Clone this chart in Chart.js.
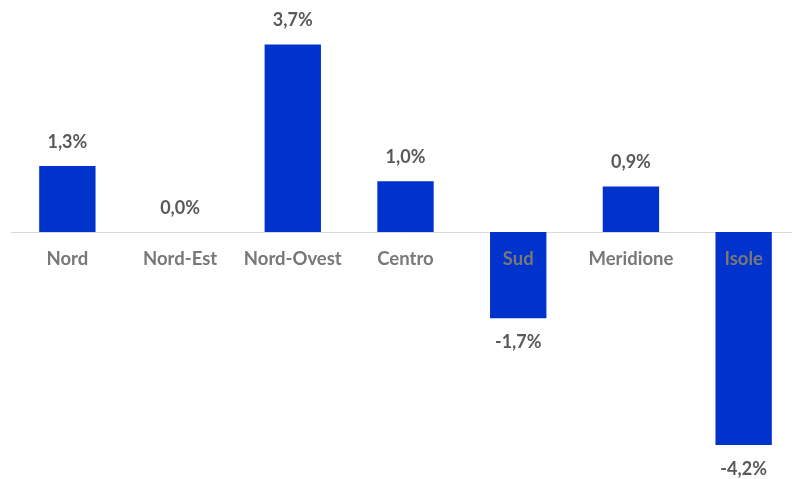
<!DOCTYPE html>
<html lang="it">
<head>
   <meta charset="UTF-8">
   <title>Variazione per area</title>
   <style>
      html, body { margin: 0; padding: 0; background: #fff; overflow: hidden; }
      #box { position: absolute; left: 0; top: 0; width: 800px; height: 479px; }
   </style>
</head>
<body>
   <div id="box"><canvas id="grafico"></canvas></div>
   <script src="https://cdn.jsdelivr.net/npm/chart.js@4"></script>
   <script>
      const aree = ['Nord', 'Nord-Est', 'Nord-Ovest', 'Centro', 'Sud', 'Meridione', 'Isole'];
      const variazioni = [1.3, 0.0, 3.7, 1.0, -1.7, 0.9, -4.2];

      const fmt = (v) => v.toFixed(1).replace('.', ',') + '%';

      // linea dello zero, etichette delle aree e valori
      const etichette = {
         id: 'etichette',
         beforeDatasetsDraw(chart) {
            const ctx = chart.ctx;
            const y0 = Math.round(chart.scales.y.getPixelForValue(0)) + 0.5;
            ctx.save();
            ctx.strokeStyle = '#d9d9d9';
            ctx.lineWidth = 1;
            ctx.beginPath();
            ctx.moveTo(chart.chartArea.left, y0);
            ctx.lineTo(chart.chartArea.right, y0);
            ctx.stroke();
            ctx.restore();
         },
         afterDatasetsDraw(chart) {
            const ctx = chart.ctx;
            const meta = chart.getDatasetMeta(0);
            const y0 = chart.scales.y.getPixelForValue(0);
            ctx.save();
            ctx.textAlign = 'center';
            ctx.textBaseline = 'middle';
            meta.data.forEach((bar, i) => {
               ctx.font = 'bold 18.5px Lato';
               ctx.fillStyle = '#787878';
               ctx.fillText(aree[i], bar.x, y0 + 27);

               const v = variazioni[i];
               ctx.font = 'bold 18px Lato';
               ctx.fillStyle = '#595959';
               const y = v < 0 ? bar.y + 24 : bar.y - 24;
               ctx.fillText(fmt(v), bar.x, y);
            });
            ctx.restore();
         }
      };

      new Chart(document.getElementById('grafico'), {
         type: 'bar',
         data: {
            labels: aree,
            datasets: [{
               data: variazioni,
               backgroundColor: '#0033cc',
               barPercentage: 0.5,
               categoryPercentage: 1.0
            }]
         },
         options: {
            responsive: true,
            maintainAspectRatio: false,
            animation: false,
            layout: { padding: { left: 11, right: 0, top: 0, bottom: 0 } },
            plugins: {
               legend: { display: false },
               tooltip: { enabled: false }
            },
            scales: {
               x: { display: false },
               y: { display: false, min: -4.87, max: 4.576 }
            }
         },
         plugins: [etichette]
      });
   </script>
</body>
</html>
